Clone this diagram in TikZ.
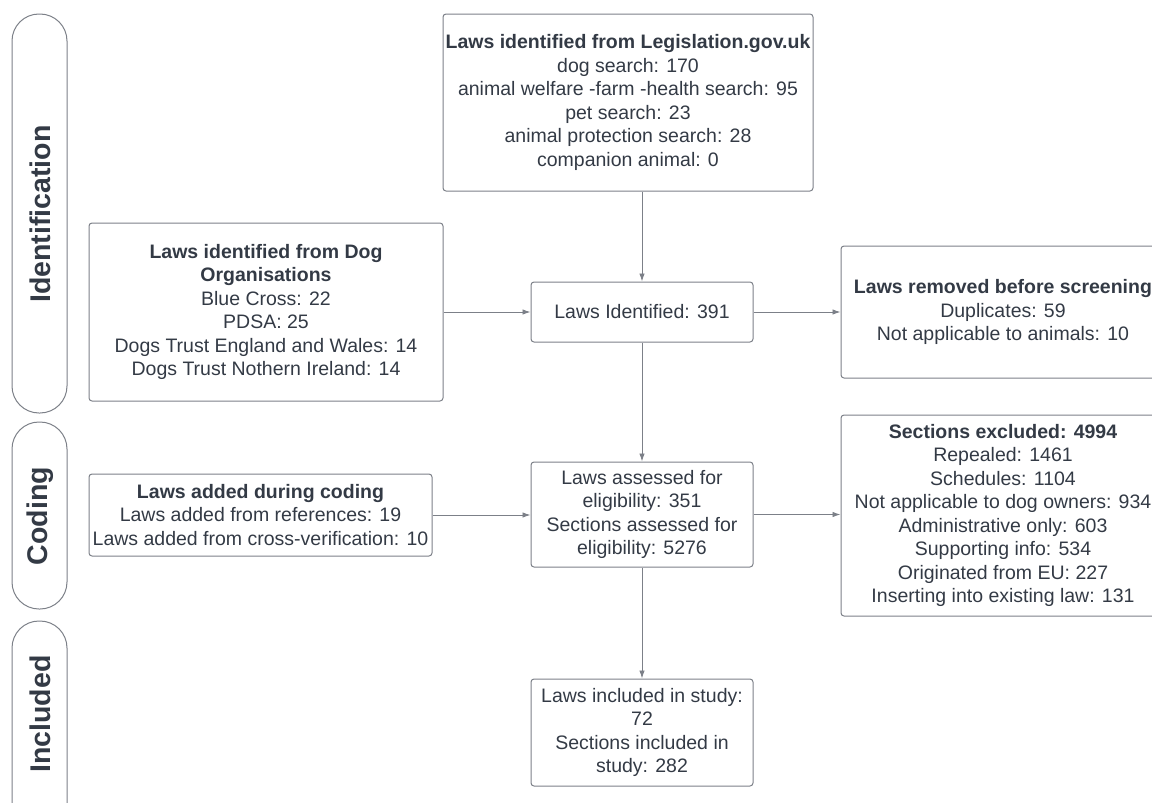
\documentclass[tikz,border=0pt]{standalone}
\usepackage{fontspec}
\setmainfont{Liberation Sans}
\usetikzlibrary{arrows.meta}
\definecolor{txt}{HTML}{333A45}
\definecolor{edge}{HTML}{7C8088}
\tikzset{
  x=1pt,y=-1pt,
  box/.style={draw=edge, line width=1pt, rounded corners=3pt, align=center, text=txt, inner sep=2pt,
    font=\fontsize{19.5}{23.5}\selectfont},
  pill/.style={draw=edge, line width=1pt, rounded corners=27pt},
  plabel/.style={rotate=90, text=txt, font=\fontsize{28.5}{32}\selectfont\bfseries},
  conn/.style={draw=edge, line width=0.9pt, -{Latex[length=8pt,width=5.5pt]}}
}
\begin{document}
\begin{tikzpicture}
\useasboundingbox (0,0) rectangle (1152,803);
% phase pills
\draw[pill] (12,14) rectangle (67,413);
\draw[pill] (12,422) rectangle (67,609);
\draw[pill] (12,621) rectangle (67,860);
\node[plabel] (pid) at (40,214) {Identification};
\node[plabel] (pco) at (40,516) {Coding};
\node[plabel] (pin) at (40,714) {Included};
% boxes
\node[box, minimum width=370, minimum height=177] (leg) at (628,102.5)
  {\textbf{Laws identified from Legislation.gov.uk}\\dog search: 170\\animal welfare -farm -health search: 95\\pet search: 23\\animal protection search: 28\\companion animal: 0};
\node[box, minimum width=354, minimum height=178] (org) at (266,312)
  {\textbf{Laws identified from Dog}\\\textbf{Organisations}\\Blue Cross: 22\\PDSA: 25\\Dogs Trust England and Wales: 14\\Dogs Trust Nothern Ireland: 14};
\node[box, minimum width=222, minimum height=60] (ident) at (642,312) {Laws Identified: 391};
\node[box, minimum width=324, minimum height=132] (rem) at (1003,312)
  {\textbf{Laws removed before screening}\\Duplicates: 59\\Not applicable to animals: 10};
\node[box, minimum width=343, minimum height=82] (add) at (260.5,515)
  {\textbf{Laws added during coding}\\Laws added from references: 19\\Laws added from cross-verification: 10};
\node[box, minimum width=222, minimum height=105] (ass) at (642,514.5)
  {Laws assessed for\\eligibility: 351\\Sections assessed for\\eligibility: 5276};
\node[box, minimum width=324, minimum height=201] (exc) at (1003,515.5)
  {\textbf{Sections excluded: 4994}\\Repealed: 1461\\Schedules: 1104\\Not applicable to dog owners: 934\\Administrative only: 603\\Supporting info: 534\\Originated from EU: 227\\Inserting into existing law: 131};
\node[box, minimum width=222, minimum height=107] (inc) at (642,732.5)
  {Laws included in study:\\72\\Sections included in\\study: 282};
% connectors
\draw[conn] (leg.south -| ident.north) -- (ident.north);
\draw[conn] (org.east) -- (ident.west);
\draw[conn] (ident.east) -- (rem.west);
\draw[conn] (ident.south) -- (ass.north);
\draw[conn] (add.east) -- (add.east -| ass.west);
\draw[conn] (ass.east) -- (ass.east -| exc.west);
\draw[conn] (ass.south) -- (inc.north);
\end{tikzpicture}
\end{document}
